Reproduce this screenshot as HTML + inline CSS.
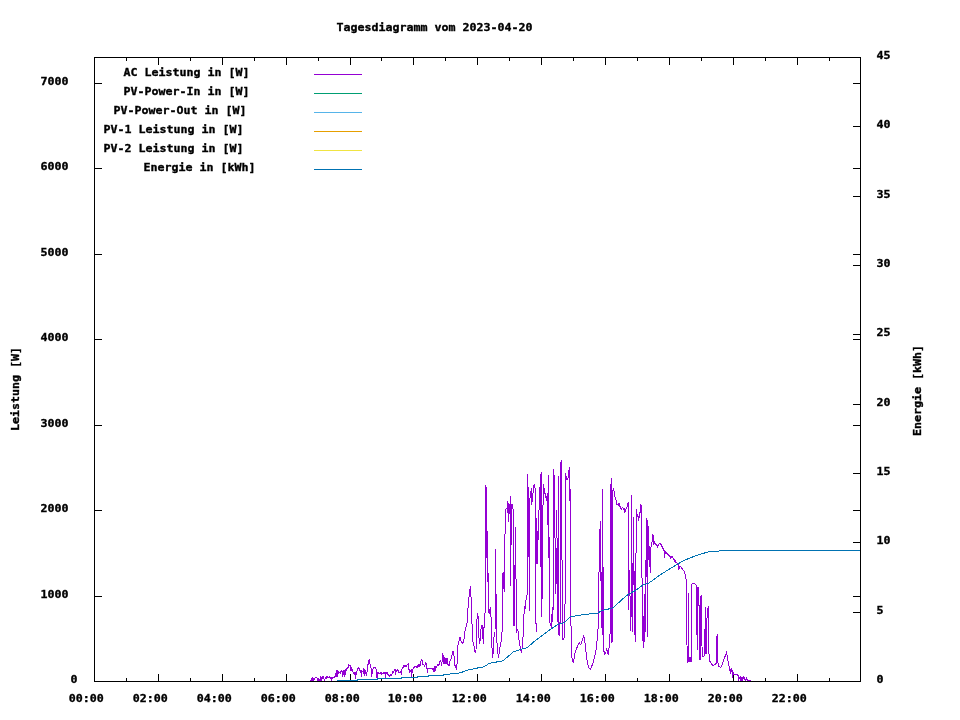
<!DOCTYPE html>
<html lang="de"><head><meta charset="utf-8"><title>Tagesdiagramm vom 2023-04-20</title>
<style>html,body{margin:0;padding:0;background:#fff;width:960px;height:720px;overflow:hidden}</style></head>
<body>
<svg width="960" height="720" viewBox="0 0 960 720" style="display:block;position:absolute;left:0;top:0">
<rect width="960" height="720" fill="#fff"/>
<g stroke="#000" stroke-width="1" fill="none" shape-rendering="crispEdges">
<line x1="126.5" y1="681" x2="126.5" y2="678"/>
<line x1="126.5" y1="58" x2="126.5" y2="61"/>
<line x1="158.5" y1="681" x2="158.5" y2="674"/>
<line x1="158.5" y1="58" x2="158.5" y2="65"/>
<line x1="190.5" y1="681" x2="190.5" y2="678"/>
<line x1="190.5" y1="58" x2="190.5" y2="61"/>
<line x1="222.5" y1="681" x2="222.5" y2="674"/>
<line x1="222.5" y1="58" x2="222.5" y2="65"/>
<line x1="254.5" y1="681" x2="254.5" y2="678"/>
<line x1="254.5" y1="58" x2="254.5" y2="61"/>
<line x1="286.5" y1="681" x2="286.5" y2="674"/>
<line x1="286.5" y1="58" x2="286.5" y2="65"/>
<line x1="318.5" y1="681" x2="318.5" y2="678"/>
<line x1="318.5" y1="58" x2="318.5" y2="61"/>
<line x1="350.5" y1="681" x2="350.5" y2="674"/>
<line x1="350.5" y1="58" x2="350.5" y2="65"/>
<line x1="381.5" y1="681" x2="381.5" y2="678"/>
<line x1="381.5" y1="58" x2="381.5" y2="61"/>
<line x1="413.5" y1="681" x2="413.5" y2="674"/>
<line x1="413.5" y1="58" x2="413.5" y2="65"/>
<line x1="445.5" y1="681" x2="445.5" y2="678"/>
<line x1="445.5" y1="58" x2="445.5" y2="61"/>
<line x1="477.5" y1="681" x2="477.5" y2="674"/>
<line x1="477.5" y1="58" x2="477.5" y2="65"/>
<line x1="509.5" y1="681" x2="509.5" y2="678"/>
<line x1="509.5" y1="58" x2="509.5" y2="61"/>
<line x1="541.5" y1="681" x2="541.5" y2="674"/>
<line x1="541.5" y1="58" x2="541.5" y2="65"/>
<line x1="573.5" y1="681" x2="573.5" y2="678"/>
<line x1="573.5" y1="58" x2="573.5" y2="61"/>
<line x1="605.5" y1="681" x2="605.5" y2="674"/>
<line x1="605.5" y1="58" x2="605.5" y2="65"/>
<line x1="637.5" y1="681" x2="637.5" y2="678"/>
<line x1="637.5" y1="58" x2="637.5" y2="61"/>
<line x1="669.5" y1="681" x2="669.5" y2="674"/>
<line x1="669.5" y1="58" x2="669.5" y2="65"/>
<line x1="701.5" y1="681" x2="701.5" y2="678"/>
<line x1="701.5" y1="58" x2="701.5" y2="61"/>
<line x1="733.5" y1="681" x2="733.5" y2="674"/>
<line x1="733.5" y1="58" x2="733.5" y2="65"/>
<line x1="765.5" y1="681" x2="765.5" y2="678"/>
<line x1="765.5" y1="58" x2="765.5" y2="61"/>
<line x1="797.5" y1="681" x2="797.5" y2="674"/>
<line x1="797.5" y1="58" x2="797.5" y2="65"/>
<line x1="829.5" y1="681" x2="829.5" y2="678"/>
<line x1="829.5" y1="58" x2="829.5" y2="61"/>
<line x1="95" y1="596.5" x2="102" y2="596.5"/>
<line x1="860" y1="596.5" x2="853" y2="596.5"/>
<line x1="95" y1="510.5" x2="102" y2="510.5"/>
<line x1="860" y1="510.5" x2="853" y2="510.5"/>
<line x1="95" y1="425.5" x2="102" y2="425.5"/>
<line x1="860" y1="425.5" x2="853" y2="425.5"/>
<line x1="95" y1="339.5" x2="102" y2="339.5"/>
<line x1="860" y1="339.5" x2="853" y2="339.5"/>
<line x1="95" y1="254.5" x2="102" y2="254.5"/>
<line x1="860" y1="254.5" x2="853" y2="254.5"/>
<line x1="95" y1="168.5" x2="102" y2="168.5"/>
<line x1="860" y1="168.5" x2="853" y2="168.5"/>
<line x1="95" y1="83.5" x2="102" y2="83.5"/>
<line x1="860" y1="83.5" x2="853" y2="83.5"/>
<line x1="860" y1="612.5" x2="853" y2="612.5"/>
<line x1="860" y1="542.5" x2="853" y2="542.5"/>
<line x1="860" y1="473.5" x2="853" y2="473.5"/>
<line x1="860" y1="404.5" x2="853" y2="404.5"/>
<line x1="860" y1="334.5" x2="853" y2="334.5"/>
<line x1="860" y1="265.5" x2="853" y2="265.5"/>
<line x1="860" y1="196.5" x2="853" y2="196.5"/>
<line x1="860" y1="126.5" x2="853" y2="126.5"/>
</g>
<polyline points="447.5,663.1 449.0,665.6 450.0,661.2 451.2,658.8 453.1,650.6 454.0,656.2 454.8,665.0 456.5,668.5 457.2,662.5 458.1,643.8 460.0,637.5 461.2,641.2 462.8,643.5 463.8,640.6 465.0,631.2 467.2,622.5 467.9,608.8 469.2,595.0 470.5,585.8 471.3,603.3 471.9,621.2 472.8,641.2 474.2,646.7 475.2,653.3 476.0,650.0 476.5,625.0 477.5,613.1 478.4,618.8 479.0,637.5 479.8,644.4 480.6,630.0 482.1,625.0 482.9,637.5 483.5,644.4 484.4,615.0 485.5,612.0 485.5,485.0 486.5,489.0 486.5,558.0 487.5,531.0 487.5,582.0 488.5,573.0 488.5,610.0 489.2,613.8 490.2,607.5 491.2,618.8 491.9,646.2 492.8,658.1 493.8,637.5 495.0,633.8 495.5,549.0 496.5,636.2 497.5,650.0 498.5,657.5 500.0,647.5 501.9,637.5 502.5,610.0 502.5,574.0 503.5,573.0 503.5,585.0 504.5,592.0" fill="none" stroke="#9400d3" stroke-width="1" stroke-linejoin="miter" shape-rendering="crispEdges"/>
<polyline points="516.5,632.5 517.8,629.4 518.8,638.8 521.2,652.5 522.8,645.0 523.5,618.8 524.8,606.2 525.6,608.8 526.2,596.7 527.2,595.0" fill="none" stroke="#9400d3" stroke-width="1" stroke-linejoin="miter" shape-rendering="crispEdges"/>
<polyline points="571.5,626.0 571.7,656.7 573.3,663.3 575.0,653.3 576.7,648.3 579.2,642.5 580.8,645.0 582.5,640.0 583.7,635.0 585.0,643.3 586.7,658.3 588.3,666.7 590.3,669.5 593.3,662.5 595.8,651.7 597.5,636.7" fill="none" stroke="#9400d3" stroke-width="1" stroke-linejoin="miter" shape-rendering="crispEdges"/>
<polyline points="675.5,562.0 676.7,562.5 678.3,565.0 678.7,570.0 680.0,565.8 681.7,568.3 683.3,570.0 684.5,572.0 685.5,576.0 686.3,580.0 686.5,627.0 687.5,662.5 688.5,661.0 688.5,593.0 688.5,661.7 690.5,660.8 691.5,660.0 691.5,584.5 692.5,583.5 694.5,583.4 695.5,584.5 696.5,586.0 696.5,620.0 697.5,650.4 697.5,587.5 698.5,588.0 698.5,605.0 699.5,605.0 699.5,659.6 700.5,659.6 700.5,597.0 701.5,595.0 701.5,636.0 702.5,656.0 703.5,656.7 704.5,654.6 704.5,631.0 705.5,628.0 705.5,607.0 705.5,653.0 706.5,653.8 706.5,627.5 707.5,608.8 708.5,607.0 708.5,647.0 709.5,660.8 710.5,662.0 711.5,664.0 713.0,665.4 715.5,664.0 716.5,663.8 716.5,637.5 717.5,634.0 717.5,660.0 718.5,666.0 719.5,666.7 720.5,667.5 721.5,666.0 722.5,664.0 723.5,660.0 724.5,658.0 725.5,655.0 726.5,652.5 727.5,657.0 728.5,665.0 729.5,667.0 729.5,670.5 730.5,669.5 730.5,673.5 731.5,669.5 732.5,671.5 732.5,677.5 733.5,672.5 733.5,674.5 734.5,674.8 737.5,675.0 738.5,675.5 738.5,680.5 739.5,677.5 740.5,676.5 740.5,680.5 741.5,677.5 741.5,680.5 742.5,677.5 742.5,680.5 743.5,676.5 743.5,678.5 744.5,677.5 744.5,679.5 745.5,680.0 746.5,677.5 746.5,679.5 747.5,680.0 749.5,680.0 750.5,680.8" fill="none" stroke="#9400d3" stroke-width="1" stroke-linejoin="miter" shape-rendering="crispEdges"/>
<path d="M310.5 680V681M311.5 678V681M312.5 677V681M313.5 678V681M314.5 678V680M315.5 677V678M316.5 677V678M317.5 678V681M318.5 678V681M319.5 679V681M320.5 676V681M321.5 677V681M322.5 676V679M323.5 676V679M324.5 679V681M325.5 677V679M326.5 676V679M327.5 676V678M328.5 677V678M329.5 676V678M330.5 677V679M331.5 677V681M332.5 677V679M333.5 677V678M334.5 676V678M335.5 673V677M336.5 670V677M337.5 670V677M338.5 671V674M339.5 672V673M340.5 671V674M341.5 670V672M342.5 671V677M343.5 670V675M344.5 670V677M345.5 669V675M346.5 668V671M347.5 667V669M348.5 664V668M349.5 665V666M350.5 665V671M351.5 667V671M352.5 669V672M353.5 672V674M354.5 672V675M355.5 672V679M356.5 671V675M357.5 668V671M358.5 667V669M359.5 668V671M360.5 670V673M361.5 670V677M362.5 671V672M363.5 668V674M364.5 669V676M365.5 670V674M366.5 672V676M367.5 664V672M368.5 660V665M369.5 659V664M370.5 664V668M371.5 668V677M372.5 669V674M373.5 667V669M374.5 667V668M375.5 667V669M376.5 669V678M377.5 672V678M378.5 672V674M379.5 673V674M380.5 672V674M381.5 672V675M382.5 673V674M383.5 672V674M384.5 672V674M385.5 672V678M386.5 672V674M387.5 672V675M388.5 674V676M389.5 675V677M390.5 674V676M391.5 674V676M392.5 671V674M393.5 671V673M394.5 669V671M395.5 669V675M396.5 670V672M397.5 669V671M398.5 670V673M399.5 672V673M400.5 671V673M401.5 669V675M402.5 667V669M403.5 665V668M404.5 665V667M405.5 665V667M406.5 665V667M407.5 664V665M408.5 663V670M409.5 669V673M410.5 670V672M411.5 669V677M412.5 669V673M413.5 667V669M414.5 666V668M415.5 666V667M416.5 666V668M417.5 665V668M418.5 664V667M419.5 664V667M420.5 661V666M421.5 659V661M422.5 660V665M423.5 664V665M424.5 665V667M425.5 662V665M426.5 663V669M427.5 668V673M428.5 668V669M429.5 668V669M430.5 668V669M431.5 668V669M432.5 668V670M433.5 668V672M434.5 666V672M435.5 666V671M436.5 666V668M437.5 664V666M438.5 664V666M439.5 661V665M440.5 660V662M441.5 662V666M442.5 653V662M443.5 655V664M444.5 657V664M445.5 658V664M446.5 658V664M447.5 658V665M504.5 534V592M505.5 509V534M506.5 508V509M507.5 501V513M508.5 503V522M509.5 504V514M510.5 496V586M511.5 504V545M512.5 504V509M513.5 509V626M514.5 565V626M515.5 527V579M516.5 579V633M527.5 474V595M528.5 487V557M529.5 498V611M530.5 491V498M531.5 488V505M532.5 493V502M533.5 485V493M534.5 484V488M535.5 488V624M536.5 518V564M536.5 623V632M537.5 531V564M538.5 510V540M539.5 487V510M540.5 474V567M541.5 472V617M542.5 505V599M543.5 484V505M544.5 488V494M545.5 493V498M546.5 496V501M547.5 493V525M548.5 475V558M549.5 537V623M550.5 623V626M551.5 614V628M552.5 607V622M553.5 469V610M554.5 475V538M555.5 538V594M556.5 510V538M556.5 548V584M557.5 538V622M558.5 476V635M559.5 622V636M560.5 462V624M561.5 460V560M562.5 560V640M563.5 638V640M564.5 604V638M565.5 473V604M566.5 476V480M567.5 478V480M568.5 470V478M569.5 467V501M570.5 489V626M571.5 626V630M597.5 629V637M598.5 572V629M599.5 529V572M600.5 521V581M601.5 572V628M602.5 489V635M603.5 567V652M604.5 651V655M605.5 652V654M606.5 648V651M607.5 650V654M608.5 648V655M609.5 634V648M610.5 484V634M611.5 478V643M612.5 490V642M613.5 488V491M614.5 491V497M615.5 497V500M616.5 500V505M617.5 504V505M618.5 503V506M619.5 503V507M620.5 506V509M621.5 508V510M622.5 507V508M623.5 508V510M624.5 508V513M625.5 509V512M626.5 507V509M627.5 503V507M628.5 502V610M629.5 570V596M630.5 596V631M631.5 495V617M632.5 563V632M633.5 517V585M634.5 571V635M635.5 553V642M636.5 509V553M637.5 514V517M638.5 516V521M639.5 512V518M640.5 504V513M641.5 505V578M642.5 578V641M643.5 616V648M644.5 594V642M645.5 560V632M646.5 518V577M647.5 520V637M648.5 526V560M649.5 546V567M650.5 547V573M651.5 542V547M652.5 534V542M653.5 535V545M654.5 541V544M655.5 543V545M656.5 544V546M657.5 545V548M658.5 544V546M659.5 543V544M660.5 543V545M661.5 544V547M662.5 546V549M663.5 548V551M664.5 550V558M665.5 551V554M666.5 552V554M667.5 553V555M668.5 554V556M669.5 555V557M670.5 556V559M671.5 556V558M672.5 556V558M673.5 558V560M674.5 559V562M675.5 560V563M687.5 658V663M688.5 658V662M689.5 657V662M690.5 657V662M691.5 657V662" fill="none" stroke="#9400d3" stroke-width="1" shape-rendering="crispEdges"/>
<polyline points="337.0,680.5 357.5,680.5 358.0,679.5 377.5,679.5 378.0,678.5 401.0,678.5 401.5,677.5 417.5,677.5 418.0,676.5 428.5,676.5 429.0,675.5 443.5,675.5 444.0,674.5 452.5,673.8 460.0,672.9 468.3,670.0 475.0,668.5 484.2,666.7 489.2,663.3 503.3,660.8 507.5,656.9 513.3,652.0 520.0,649.7 527.5,647.5 535.0,640.8 548.3,630.8 558.3,624.2 564.2,622.8 570.5,616.7 583.3,614.7 598.3,613.0 601.7,610.3 606.0,609.7 613.5,607.6 621.0,600.4 628.3,594.2 635.0,590.8 642.5,585.3 648.3,583.3 653.3,580.0 660.0,575.0 668.3,569.7 673.3,566.7 678.3,563.7 685.0,560.0 693.3,556.7 700.0,554.2 708.3,552.0 716.7,551.2 726.7,550.5 860.0,550.5" fill="none" stroke="#0072b2" stroke-width="1" stroke-linejoin="miter" shape-rendering="crispEdges"/>
<rect x="94.5" y="57.5" width="766" height="624" fill="none" stroke="#000" stroke-width="1" shape-rendering="crispEdges"/>
<line x1="314" y1="74.5" x2="362" y2="74.5" stroke="#9400d3" stroke-width="1" shape-rendering="crispEdges"/>
<line x1="314" y1="93.5" x2="362" y2="93.5" stroke="#009e73" stroke-width="1" shape-rendering="crispEdges"/>
<line x1="314" y1="112.5" x2="362" y2="112.5" stroke="#56b4e9" stroke-width="1" shape-rendering="crispEdges"/>
<line x1="314" y1="131.5" x2="362" y2="131.5" stroke="#e69f00" stroke-width="1" shape-rendering="crispEdges"/>
<line x1="314" y1="150.5" x2="362" y2="150.5" stroke="#f0e442" stroke-width="1" shape-rendering="crispEdges"/>
<line x1="314" y1="169.5" x2="362" y2="169.5" stroke="#0072b2" stroke-width="1" shape-rendering="crispEdges"/>
<g font-family="'DejaVu Sans Mono','Liberation Mono',monospace" font-weight="bold" font-size="11px" fill="#000" stroke="#000" stroke-width="0.35" transform="translate(-0.5 0)">
<text x="337" y="31" textLength="196" lengthAdjust="spacingAndGlyphs">Tagesdiagramm vom 2023-04-20</text>
<text x="124" y="76" textLength="126" lengthAdjust="spacingAndGlyphs">AC Leistung in [W]</text>
<text x="124" y="95" textLength="126" lengthAdjust="spacingAndGlyphs">PV-Power-In in [W]</text>
<text x="114" y="114" textLength="133" lengthAdjust="spacingAndGlyphs">PV-Power-Out in [W]</text>
<text x="104" y="133" textLength="140" lengthAdjust="spacingAndGlyphs">PV-1 Leistung in [W]</text>
<text x="104" y="152" textLength="140" lengthAdjust="spacingAndGlyphs">PV-2 Leistung in [W]</text>
<text x="144" y="171" textLength="112" lengthAdjust="spacingAndGlyphs">Energie in [kWh]</text>
<text x="71" y="683" textLength="7" lengthAdjust="spacingAndGlyphs">0</text>
<text x="41" y="598" textLength="28" lengthAdjust="spacingAndGlyphs">1000</text>
<text x="41" y="512" textLength="28" lengthAdjust="spacingAndGlyphs">2000</text>
<text x="41" y="427" textLength="28" lengthAdjust="spacingAndGlyphs">3000</text>
<text x="41" y="341" textLength="28" lengthAdjust="spacingAndGlyphs">4000</text>
<text x="41" y="256" textLength="28" lengthAdjust="spacingAndGlyphs">5000</text>
<text x="41" y="170" textLength="28" lengthAdjust="spacingAndGlyphs">6000</text>
<text x="41" y="85" textLength="28" lengthAdjust="spacingAndGlyphs">7000</text>
<text x="877" y="683" textLength="7" lengthAdjust="spacingAndGlyphs">0</text>
<text x="877" y="614" textLength="7" lengthAdjust="spacingAndGlyphs">5</text>
<text x="877" y="544" textLength="14" lengthAdjust="spacingAndGlyphs">10</text>
<text x="877" y="475" textLength="14" lengthAdjust="spacingAndGlyphs">15</text>
<text x="877" y="406" textLength="14" lengthAdjust="spacingAndGlyphs">20</text>
<text x="877" y="336" textLength="14" lengthAdjust="spacingAndGlyphs">25</text>
<text x="877" y="267" textLength="14" lengthAdjust="spacingAndGlyphs">30</text>
<text x="877" y="198" textLength="14" lengthAdjust="spacingAndGlyphs">35</text>
<text x="877" y="128" textLength="14" lengthAdjust="spacingAndGlyphs">40</text>
<text x="877" y="59" textLength="14" lengthAdjust="spacingAndGlyphs">45</text>
<text x="69.2" y="702" textLength="35" lengthAdjust="spacingAndGlyphs">00:00</text>
<text x="133.2" y="702" textLength="35" lengthAdjust="spacingAndGlyphs">02:00</text>
<text x="197.2" y="702" textLength="35" lengthAdjust="spacingAndGlyphs">04:00</text>
<text x="261.2" y="702" textLength="35" lengthAdjust="spacingAndGlyphs">06:00</text>
<text x="325.2" y="702" textLength="35" lengthAdjust="spacingAndGlyphs">08:00</text>
<text x="388.2" y="702" textLength="35" lengthAdjust="spacingAndGlyphs">10:00</text>
<text x="452.2" y="702" textLength="35" lengthAdjust="spacingAndGlyphs">12:00</text>
<text x="516.2" y="702" textLength="35" lengthAdjust="spacingAndGlyphs">14:00</text>
<text x="580.2" y="702" textLength="35" lengthAdjust="spacingAndGlyphs">16:00</text>
<text x="644.2" y="702" textLength="35" lengthAdjust="spacingAndGlyphs">18:00</text>
<text x="708.2" y="702" textLength="35" lengthAdjust="spacingAndGlyphs">20:00</text>
<text x="772.2" y="702" textLength="35" lengthAdjust="spacingAndGlyphs">22:00</text>
<text x="19" y="431" textLength="84" lengthAdjust="spacingAndGlyphs" transform="rotate(-90 19 431)">Leistung [W]</text>
<text x="921" y="436" textLength="91" lengthAdjust="spacingAndGlyphs" transform="rotate(-90 921 436)">Energie [kWh]</text>
</g>
</svg>
</body></html>
